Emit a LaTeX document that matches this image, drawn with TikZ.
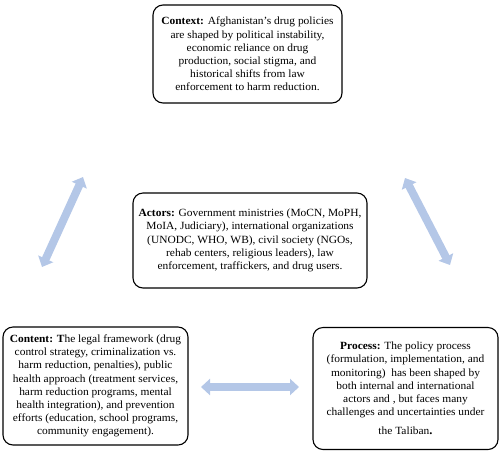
\documentclass[tikz,border=0pt]{standalone}
\usepackage{fontspec}
\setmainfont{Liberation Serif}[FakeStretch=1.04]
\usetikzlibrary{arrows.meta}
\definecolor{arrowblue}{HTML}{B4C7E7}
\tikzset{
  infobox/.style={draw=black, line width=1.1pt, rounded corners=10pt, align=center,
    font=\fontsize{11}{13.2}\selectfont, inner sep=0pt},
  blockarrow/.style={draw=arrowblue, line width=8pt,
    {Triangle[width=16pt,length=9pt]}-{Triangle[width=16pt,length=9pt]}}
}
\begin{document}
\begin{tikzpicture}[x=1pt,y=-1pt]
\useasboundingbox (0,0) rectangle (500,451);
\node[infobox, minimum width=189pt, minimum height=98pt] (context) at (247.5,54)
 {\textbf{Context:} Afghanistan's drug policies\\are shaped by political instability,\\economic reliance on drug\\production, social stigma, and\\historical shifts from law\\enforcement to harm reduction.};
\node[infobox, minimum width=234pt, minimum height=95pt] (actors) at (250,240.5)
 {\textbf{Actors:} Government ministries (MoCN, MoPH,\\MoIA, Judiciary), international organizations\\(UNODC, WHO, WB), civil society (NGOs,\\rehab centers, religious leaders), law\\enforcement, traffickers, and drug users.};
\node[infobox, minimum width=185pt, minimum height=122pt] (process) at (405.5,388.5)
 {\textbf{Process:} The policy process\\(formulation, implementation, and\\monitoring)\ \ has been shaped by\\both internal and international\\actors and , but faces many\\challenges and uncertainties under\\[6pt]the Taliban{\large\textbf{.}}};
\node[infobox, minimum width=185pt, minimum height=118pt] (content) at (95.5,386)
 {\textbf{Content: T}he legal framework (drug\\control strategy, criminalization vs.\\harm reduction, penalties), public\\health approach (treatment services,\\harm reduction programs, mental\\health integration), and prevention\\efforts (education, school programs,\\community engagement).};
\coordinate (la) at (83,177);
\coordinate (lb) at (42,267);
\coordinate (ra) at (405,178);
\coordinate (rb) at (450,265);
\coordinate (ha) at (201,387);
\coordinate (hb) at (299,387);
\draw[blockarrow] (lb) -- (la);
\draw[blockarrow] (ra) -- (rb);
\draw[blockarrow] (ha) -- (hb);
\end{tikzpicture}
\end{document}
